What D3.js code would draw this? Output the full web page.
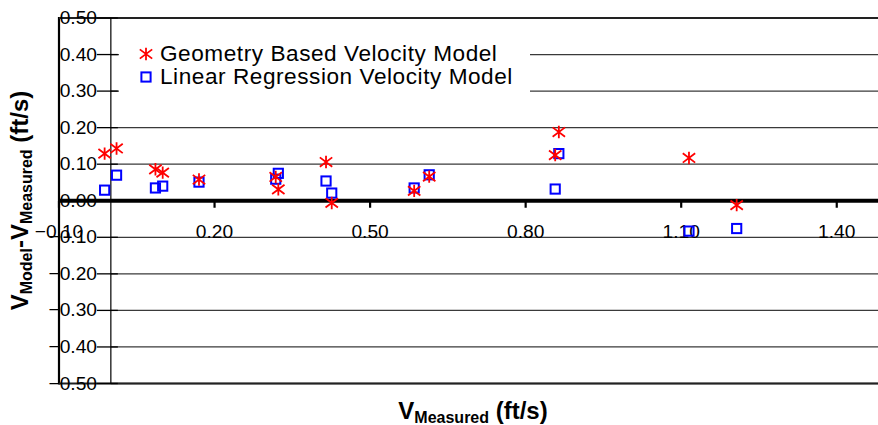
<!DOCTYPE html>
<html>
<head>
<meta charset="utf-8">
<script src="https://cdn.jsdelivr.net/npm/d3@7"></script>
<style>
  html, body { margin: 0; padding: 0; background: #fff; }
  svg { display: block; font-family: "Liberation Sans", Arial, sans-serif; }
</style>
</head>
<body>
<svg id="chart" width="878" height="425"></svg>
<script>
// Measured velocity (ft/s) and model error (model - measured, ft/s)
const measured        = [-0.012, 0.011, 0.086, 0.100, 0.170, 0.318, 0.323, 0.415, 0.426, 0.585, 0.614, 0.857, 0.864, 1.115, 1.207];
const geometryModel   = [ 0.129, 0.143, 0.086, 0.077, 0.058, 0.065, 0.031, 0.106, -0.006, 0.027, 0.066, 0.125, 0.188, 0.117, -0.012];
const regressionModel = [ 0.029, 0.070, 0.035, 0.040, 0.051, 0.059, 0.075, 0.054, 0.021, 0.035, 0.071, 0.032, 0.129, -0.083, -0.076];

const xTicks = [-0.10, 0.20, 0.50, 0.80, 1.10, 1.40];
const yTicks = [-0.50, -0.40, -0.30, -0.20, -0.10, 0.00, 0.10, 0.20, 0.30, 0.40, 0.50];

const seriesNames = ["Geometry Based Velocity Model", "Linear Regression Velocity Model"];

const svg = d3.select("#chart");
const W = 878;

const x = d3.scaleLinear().domain([-0.1, 1.7]).range([59, 59 + 1.8 * 518.5]);
const y = d3.scaleLinear().domain([-0.5, 0.5]).range([383.5, 18]);
const fmt = d3.format(".2f");

// horizontal gridlines
svg.append("g").selectAll("line").data(yTicks).join("line")
  .attr("x1", x(0)).attr("x2", W)
  .attr("y1", d => y(d)).attr("y2", d => y(d))
  .attr("stroke", "#3a3a3a").attr("stroke-width", 1.3);

// plot area left border
svg.append("line")
  .attr("x1", x(-0.1)).attr("x2", x(-0.1))
  .attr("y1", y(0.5) - 1).attr("y2", y(-0.5) + 1)
  .attr("stroke", "#000").attr("stroke-width", 2.2);

// top and bottom border
[0.5, -0.5].forEach(v => {
  svg.append("line")
    .attr("x1", x(-0.1)).attr("x2", W)
    .attr("y1", y(v)).attr("y2", y(v))
    .attr("stroke", "#222").attr("stroke-width", 2);
});

// vertical axis at x = 0
svg.append("line")
  .attr("x1", x(0)).attr("x2", x(0))
  .attr("y1", y(0.5)).attr("y2", y(-0.5))
  .attr("stroke", "#000").attr("stroke-width", 1.2);

// y tick marks
svg.append("g").selectAll("line").data(yTicks).join("line")
  .attr("x1", x(0) - 14).attr("x2", x(0) + 7)
  .attr("y1", d => y(d)).attr("y2", d => y(d))
  .attr("stroke", "#000").attr("stroke-width", 1.3);

// horizontal axis at y = 0
svg.append("line")
  .attr("x1", x(-0.1)).attr("x2", W)
  .attr("y1", y(0)).attr("y2", y(0))
  .attr("stroke", "#000").attr("stroke-width", 4);

// x tick marks
svg.append("g").selectAll("line").data(xTicks).join("line")
  .attr("x1", d => x(d)).attr("x2", d => x(d))
  .attr("y1", y(0)).attr("y2", y(0) + 7)
  .attr("stroke", "#000").attr("stroke-width", 2.2);

// y tick labels
svg.append("g").selectAll("text").data(yTicks).join("text")
  .attr("x", 97).attr("y", d => y(d) + 6)
  .attr("text-anchor", "end")
  .attr("font-size", 19.2)
  .attr("fill", "#000")
  .text(d => fmt(d));

// x tick labels
svg.append("g").selectAll("text").data(xTicks).join("text")
  .attr("x", d => x(d)).attr("y", 237.5)
  .attr("text-anchor", "middle")
  .attr("font-size", 19.2)
  .attr("fill", "#000")
  .text(d => fmt(d));

// marker shapes
function asterisk(g, s) {
  g.append("path")
    .attr("d", `M0,${-s}V${s}M${-s},${-s * 0.75}L${s},${s * 0.75}M${-s},${s * 0.75}L${s},${-s * 0.75}`)
    .attr("stroke", "#ff0000").attr("stroke-width", 1.8).attr("fill", "none");
}
function square(g, s) {
  g.append("rect")
    .attr("x", -s).attr("y", -s).attr("width", 2 * s).attr("height", 2 * s)
    .attr("stroke", "#0000ff").attr("stroke-width", 2).attr("fill", "none");
}

// Linear regression model points
const regData = measured.map((m, i) => ({ m, v: regressionModel[i] }));
svg.append("g").selectAll("g").data(regData).join("g")
  .attr("transform", d => `translate(${x(d.m)},${y(d.v)})`)
  .each(function () { square(d3.select(this), 4.6); });

// Geometry based model points
const geoData = measured.map((m, i) => ({ m, v: geometryModel[i] }));
svg.append("g").selectAll("g").data(geoData).join("g")
  .attr("transform", d => `translate(${x(d.m)},${y(d.v)})`)
  .each(function () { asterisk(d3.select(this), 6.2); });

// legend
const legend = svg.append("g");
legend.append("rect")
  .attr("x", 119).attr("y", 31).attr("width", 411).attr("height", 66)
  .attr("fill", "#fff");
const lg1 = legend.append("g").attr("transform", "translate(146,54)");
asterisk(lg1, 6.2);
const lg2 = legend.append("g").attr("transform", "translate(146,77)");
square(lg2, 4.6);
legend.append("text").attr("x", 160).attr("y", 60.5).attr("font-size", 22.6)
  .attr("letter-spacing", 0.55)
  .attr("fill", "#000").text(seriesNames[0]);
legend.append("text").attr("x", 160).attr("y", 83.5).attr("font-size", 22.6)
  .attr("letter-spacing", 0.55)
  .attr("fill", "#000").text(seriesNames[1]);

// axis titles
const xt = svg.append("text")
  .attr("x", 473).attr("y", 419)
  .attr("text-anchor", "middle")
  .attr("font-weight", "bold").attr("font-size", 24).attr("fill", "#000");
xt.append("tspan").text("V");
xt.append("tspan").attr("font-size", 16).attr("dy", 3.5).text("Measured");
xt.append("tspan").attr("dy", -3.5).text(" (ft/s)");

const yt = svg.append("text")
  .attr("transform", "translate(28,200.5) rotate(-90)")
  .attr("text-anchor", "middle")
  .attr("font-weight", "bold").attr("font-size", 24).attr("fill", "#000");
yt.append("tspan").text("V");
yt.append("tspan").attr("font-size", 16).attr("dy", 4).text("Model");
yt.append("tspan").attr("dy", -4).text("-V");
yt.append("tspan").attr("font-size", 16).attr("dy", 4).text("Measured");
yt.append("tspan").attr("dy", -4).text(" (ft/s)");
</script>
</body>
</html>
